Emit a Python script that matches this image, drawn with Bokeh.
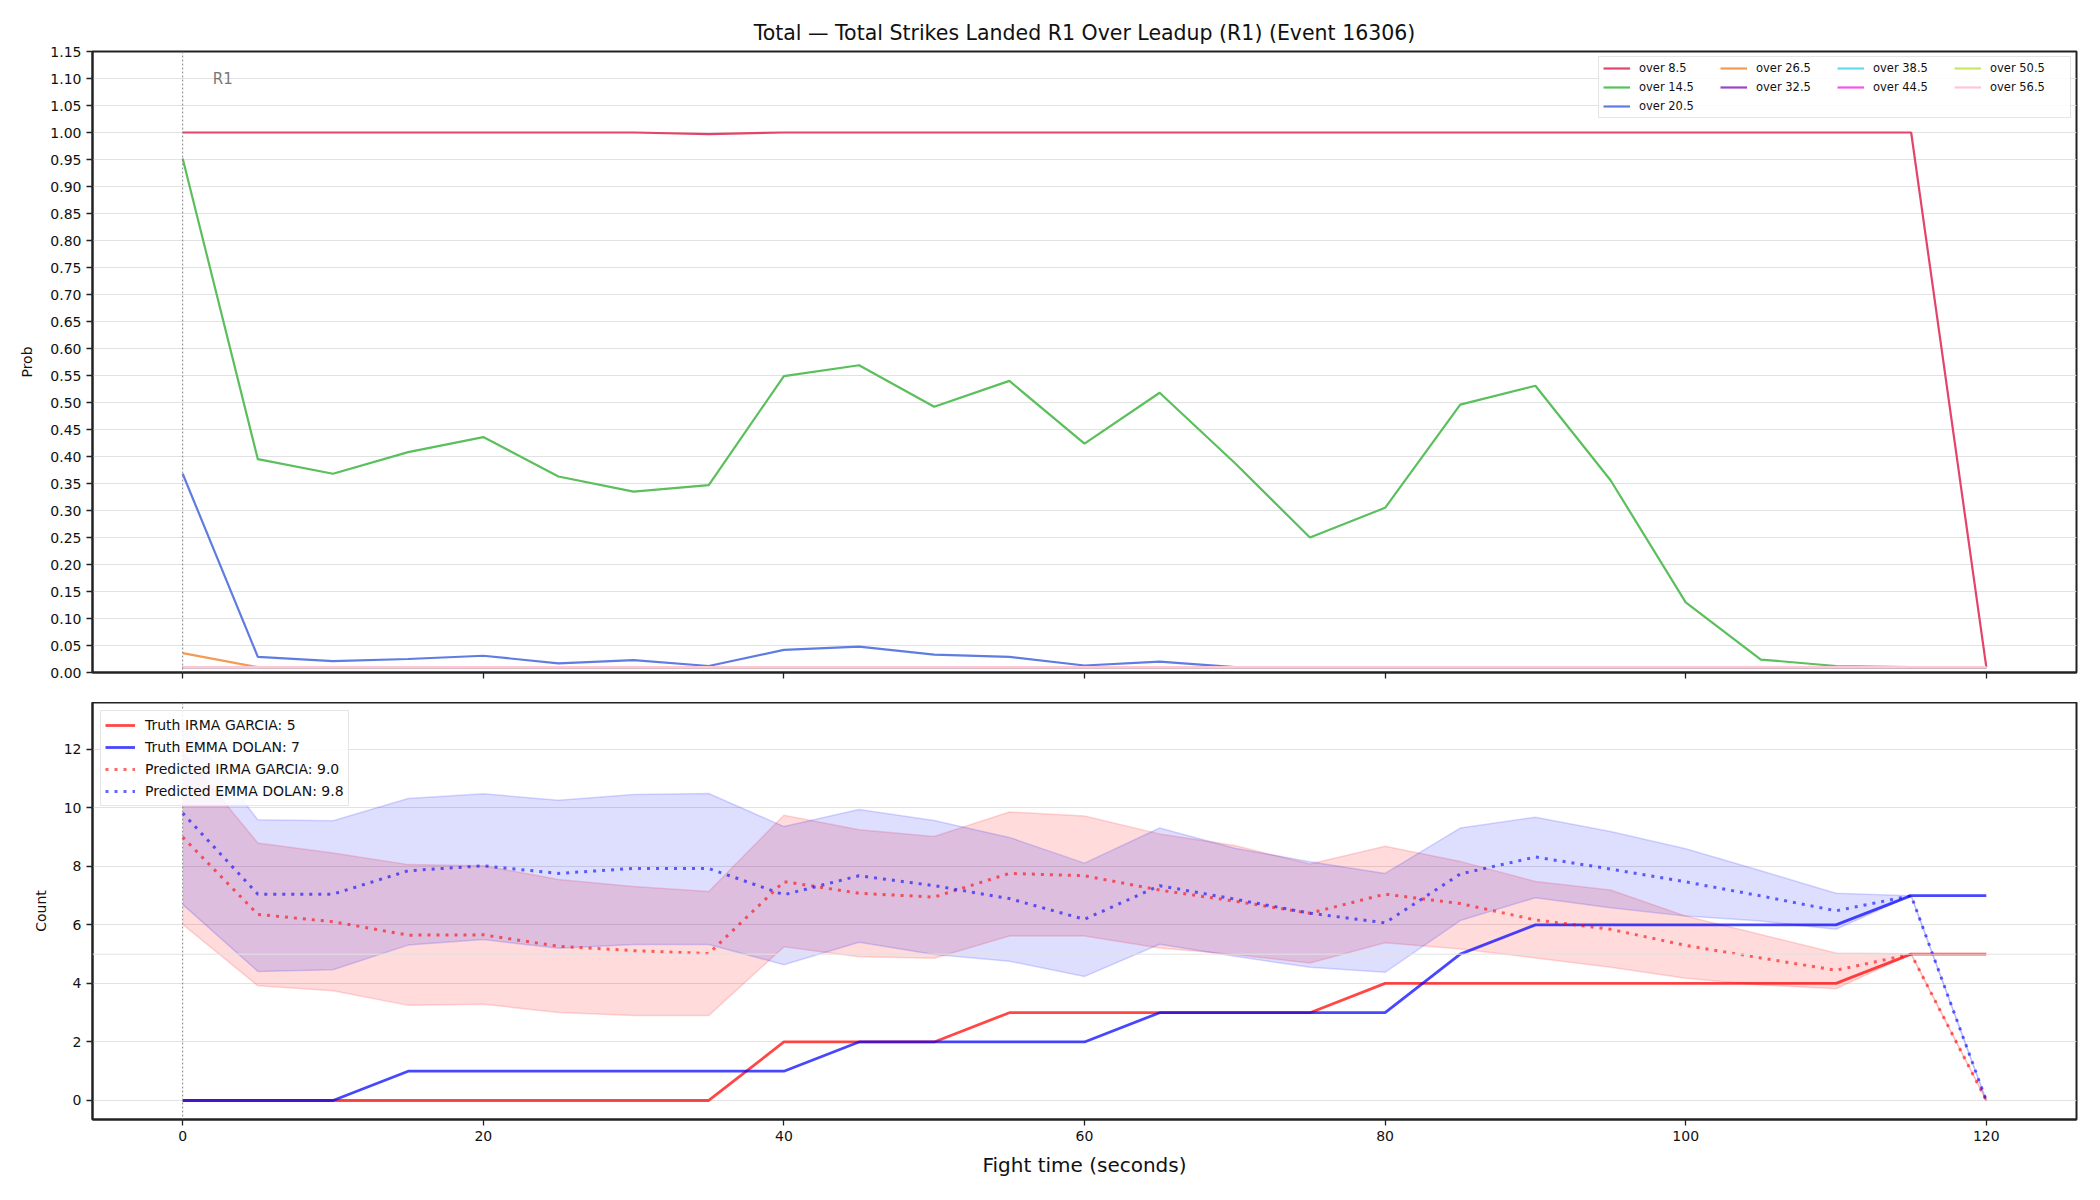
from bokeh.plotting import figure
from bokeh.layouts import column
from bokeh.models import Span, Legend, LegendItem, FixedTicker, NumeralTickFormatter, Range1d, Label
from bokeh.embed import file_html
from bokeh.resources import INLINE

FONT = "DejaVu Sans"

# ---------------- data ----------------
t = [0, 5, 10, 15, 20, 25, 30, 35, 40, 45, 50, 55, 60, 65, 70, 75, 80, 85, 90, 95, 100, 105, 110, 115, 120]

over_8_5 = [1.000, 1.000, 1.000, 1.000, 1.000, 1.000, 1.000, 0.997, 1.000, 1.000, 1.000, 1.000, 1.000,
            1.000, 1.000, 1.000, 1.000, 1.000, 1.000, 1.000, 1.000, 1.000, 1.000, 1.000, 0.010]
over_14_5 = [0.952, 0.395, 0.368, 0.408, 0.436, 0.363, 0.335, 0.347, 0.549, 0.569, 0.492, 0.540, 0.424,
             0.518, 0.388, 0.250, 0.305, 0.496, 0.531, 0.356, 0.130, 0.024, 0.012, 0.010, 0.010]
over_20_5 = [0.368, 0.029, 0.021, 0.025, 0.031, 0.017, 0.023, 0.012, 0.042, 0.048, 0.033, 0.029, 0.013,
             0.020, 0.010, 0.010, 0.010, 0.010, 0.010, 0.010, 0.010, 0.010, 0.010, 0.010, 0.010]
over_26_5 = [0.036, 0.010, 0.010, 0.010, 0.010, 0.010, 0.010, 0.010, 0.010, 0.010, 0.010, 0.010, 0.010,
             0.010, 0.010, 0.010, 0.010, 0.010, 0.010, 0.010, 0.010, 0.010, 0.010, 0.010, 0.010]
over_32_5 = [0.010, 0.010, 0.010, 0.010, 0.010, 0.010, 0.010, 0.010, 0.010, 0.010, 0.010, 0.010, 0.010,
             0.010, 0.010, 0.010, 0.010, 0.010, 0.010, 0.010, 0.010, 0.010, 0.010, 0.010, 0.010]
over_38_5 = [0.010, 0.010, 0.010, 0.010, 0.010, 0.010, 0.010, 0.010, 0.010, 0.010, 0.010, 0.010, 0.010,
             0.010, 0.010, 0.010, 0.010, 0.010, 0.010, 0.010, 0.010, 0.010, 0.010, 0.010, 0.010]
over_44_5 = [0.010, 0.010, 0.010, 0.010, 0.010, 0.010, 0.010, 0.010, 0.010, 0.010, 0.010, 0.010, 0.010,
             0.010, 0.010, 0.010, 0.010, 0.010, 0.010, 0.010, 0.010, 0.010, 0.010, 0.010, 0.010]
over_50_5 = [0.010, 0.010, 0.010, 0.010, 0.010, 0.010, 0.010, 0.010, 0.010, 0.010, 0.010, 0.010, 0.010,
             0.010, 0.010, 0.010, 0.010, 0.010, 0.010, 0.010, 0.010, 0.010, 0.010, 0.010, 0.010]
over_56_5 = [0.010, 0.010, 0.010, 0.010, 0.010, 0.010, 0.010, 0.010, 0.010, 0.010, 0.010, 0.010, 0.010,
             0.010, 0.010, 0.010, 0.010, 0.010, 0.010, 0.010, 0.010, 0.010, 0.010, 0.010, 0.010]

line_names = ["over 8.5", "over 14.5", "over 20.5", "over 26.5", "over 32.5",
              "over 38.5", "over 44.5", "over 50.5", "over 56.5"]
line_series = [over_8_5, over_14_5, over_20_5, over_26_5, over_32_5,
               over_38_5, over_44_5, over_50_5, over_56_5]

truth_irma = [0, 0, 0, 0, 0, 0, 0, 0, 2, 2, 2, 3, 3, 3, 3, 3, 4, 4, 4, 4, 4, 4, 4, 5, 5]
truth_emma = [0, 0, 0, 1, 1, 1, 1, 1, 1, 2, 2, 2, 2, 3, 3, 3, 3, 5, 6, 6, 6, 6, 6, 7, 7]
pred_irma = [9.0, 6.36, 6.11, 5.65, 5.66, 5.27, 5.12, 5.02, 7.48, 7.08, 6.95, 7.76, 7.68,
             7.19, 6.81, 6.40, 7.05, 6.73, 6.17, 5.85, 5.30, 4.87, 4.45, 5.0, 0.0]
pred_emma = [9.82, 7.05, 7.05, 7.85, 8.02, 7.76, 7.93, 7.93, 7.03, 7.68, 7.34, 6.90, 6.19,
             7.34, 6.88, 6.40, 6.07, 7.74, 8.32, 7.91, 7.47, 6.99, 6.48, 7.0, 0.0]
irma_hi = [11.92, 8.80, 8.46, 8.06, 8.02, 7.55, 7.31, 7.14, 9.75, 9.25, 9.02, 9.86, 9.72,
           9.11, 8.71, 8.08, 8.69, 8.17, 7.48, 7.19, 6.30, 5.67, 5.04, 5.01, 0.0]
irma_lo = [6.02, 3.92, 3.75, 3.25, 3.29, 3.01, 2.90, 2.90, 5.25, 4.91, 4.86, 5.62, 5.62,
           5.21, 4.99, 4.70, 5.39, 5.18, 4.87, 4.55, 4.18, 3.95, 3.82, 5.0, 0.0]
emma_hi = [12.95, 9.59, 9.56, 10.32, 10.48, 10.26, 10.46, 10.49, 9.36, 9.94, 9.57, 8.99, 8.11,
           9.31, 8.62, 8.16, 7.76, 9.31, 9.68, 9.19, 8.60, 7.85, 7.08, 7.0, 0.0]
emma_lo = [6.70, 4.41, 4.47, 5.31, 5.50, 5.20, 5.33, 5.33, 4.64, 5.41, 4.99, 4.76, 4.24,
           5.34, 4.93, 4.55, 4.38, 6.15, 6.93, 6.59, 6.30, 6.13, 5.85, 7.0, 0.0]

legend_truth_irma = "Truth IRMA GARCIA: 5"
legend_truth_emma = "Truth EMMA DOLAN: 7"
legend_pred_irma = "Predicted IRMA GARCIA: 9.0"
legend_pred_emma = "Predicted EMMA DOLAN: 9.8"

prob_ticks = [0.0, 0.05, 0.10, 0.15, 0.20, 0.25, 0.30, 0.35, 0.40, 0.45, 0.50, 0.55, 0.60,
              0.65, 0.70, 0.75, 0.80, 0.85, 0.90, 0.95, 1.00, 1.05, 1.10, 1.15]
count_ticks = [0, 2, 4, 6, 8, 10, 12]
time_ticks = [0, 20, 40, 60, 80, 100, 120]

title_text = "Total \u2014 Total Strikes Landed R1 Over Leadup (R1) (Event 16306)"

# ---------------- styles ----------------
line_colors = ["#e4436a", "#5abf5c", "#5f7ce2", "#f59a52", "#9a46c4",
               "#62dcee", "#f455ec", "#c6ea5e", "#fcc8d6"]


def style_axes(p):
    p.outline_line_color = "#222222"
    p.outline_line_width = 2
    p.xgrid.visible = False
    p.ygrid.grid_line_color = "#e2e2e2"
    p.ygrid.grid_line_width = 1
    for ax in (p.xaxis, p.yaxis):
        ax.axis_line_color = "#222222"
        ax.axis_line_width = 2
        ax.major_tick_line_color = "#222222"
        ax.major_tick_line_width = 1.3
        ax.major_tick_out = 6
        ax.major_tick_in = 0
        ax.minor_tick_line_color = None
        ax.major_label_text_font = FONT
        ax.major_label_text_font_size = "14px"
        ax.major_label_text_color = "#111111"
        ax.axis_label_text_font = FONT
        ax.axis_label_text_font_style = "normal"
        ax.axis_label_text_color = "#111111"


shared_x = Range1d(-6, 126)

# ---------------- top panel ----------------
p1 = figure(width=2100, height=702, x_range=shared_x, y_range=Range1d(0, 1.15),
            output_backend="svg", toolbar_location=None,
            min_border_left=92, min_border_right=24, min_border_top=51, min_border_bottom=30)
style_axes(p1)
p1.title.text = title_text
p1.title.align = "center"
p1.title.text_font = FONT
p1.title.text_font_size = "20.5px"
p1.title.text_font_style = "normal"
p1.title.text_color = "#111111"
p1.title.standoff = 14
p1.yaxis.ticker = FixedTicker(ticks=prob_ticks)
p1.yaxis.formatter = NumeralTickFormatter(format="0.00")
p1.yaxis.axis_label = "Prob"
p1.yaxis.axis_label_text_font_size = "14px"
p1.yaxis.axis_label_standoff = 12
p1.xaxis.ticker = FixedTicker(ticks=time_ticks)
p1.xaxis.major_label_overrides = {tk: "" for tk in time_ticks}

p1.add_layout(Span(location=0, dimension="height", line_color="#888888",
                   line_dash="2 2", line_width=1))

renderers = {}
for name, ys, col in zip(line_names, line_series, line_colors):
    renderers[name] = p1.line(t, ys, line_color=col, line_width=2.2)

p1.add_layout(Label(x=2, y=1.10, text="R1", text_color="#777777", text_font=FONT,
                    text_font_size="15px", text_baseline="middle", text_align="left"))

# order items so that a row-major 4-column grid matches the reference layout
legend_order = ["over 8.5", "over 26.5", "over 38.5", "over 50.5",
                "over 14.5", "over 32.5", "over 44.5", "over 56.5",
                "over 20.5"]
leg1 = Legend(items=[LegendItem(label=n, renderers=[renderers[n]]) for n in legend_order],
              location="top_right", orientation="horizontal", ncols=4)
leg1.label_text_font = FONT
leg1.label_text_font_size = "11.5px"
leg1.label_text_color = "#111111"
leg1.glyph_width = 27
leg1.glyph_height = 14
leg1.label_standoff = 9
leg1.label_width = 76
leg1.label_height = 14
leg1.spacing = 5
leg1.padding = 4
leg1.margin = 5
leg1.border_line_color = "#cccccc"
leg1.border_line_width = 1.5
leg1.background_fill_alpha = 0.85
p1.add_layout(leg1)

# ---------------- bottom panel ----------------
p2 = figure(width=2100, height=498, x_range=shared_x, y_range=Range1d(-0.65, 13.6),
            output_backend="svg", toolbar_location=None,
            min_border_left=92, min_border_right=24, min_border_top=0, min_border_bottom=81)
style_axes(p2)
p2.yaxis.ticker = FixedTicker(ticks=count_ticks)
p2.yaxis.axis_label = "Count"
p2.yaxis.axis_label_text_font_size = "14px"
p2.yaxis.axis_label_standoff = 12
p2.xaxis.ticker = FixedTicker(ticks=time_ticks)
p2.xaxis.axis_label = "Fight time (seconds)"
p2.xaxis.axis_label_text_font_size = "20px"
p2.xaxis.axis_label_standoff = 9

p2.add_layout(Span(location=5, dimension="width", line_color="#e2e2e2", line_width=1))
p2.add_layout(Span(location=0, dimension="height", line_color="#888888",
                   line_dash="2 2", line_width=1))

p2.varea(x=t, y1=irma_lo, y2=irma_hi, fill_color="#ff0000", fill_alpha=0.14)
p2.line(t, irma_hi, line_color="#ff0000", line_alpha=0.15, line_width=1.5)
p2.line(t, irma_lo, line_color="#ff0000", line_alpha=0.15, line_width=1.5)
p2.varea(x=t, y1=emma_lo, y2=emma_hi, fill_color="#0000ff", fill_alpha=0.13)
p2.line(t, emma_hi, line_color="#0000ff", line_alpha=0.15, line_width=1.5)
p2.line(t, emma_lo, line_color="#0000ff", line_alpha=0.15, line_width=1.5)

r_ti = p2.line(t, truth_irma, line_color="#ff0000", line_alpha=0.72, line_width=2.8)
r_te = p2.line(t, truth_emma, line_color="#0000ff", line_alpha=0.72, line_width=2.8)
r_pi = p2.line(t, pred_irma, line_color="#ff0000", line_alpha=0.6, line_width=3, line_dash="3 6")
r_pe = p2.line(t, pred_emma, line_color="#0000ff", line_alpha=0.6, line_width=3, line_dash="3 6")

leg2 = Legend(items=[LegendItem(label=legend_truth_irma, renderers=[r_ti]),
                     LegendItem(label=legend_truth_emma, renderers=[r_te]),
                     LegendItem(label=legend_pred_irma, renderers=[r_pi]),
                     LegendItem(label=legend_pred_emma, renderers=[r_pe])],
              location="top_left")
leg2.label_text_font = FONT
leg2.label_text_font_size = "14px"
leg2.label_text_color = "#111111"
leg2.glyph_width = 30
leg2.glyph_height = 20
leg2.label_standoff = 10
leg2.spacing = 2
leg2.padding = 4
leg2.margin = 8
leg2.border_line_color = "#cccccc"
leg2.border_line_width = 1.5
leg2.background_fill_alpha = 0.85
p2.add_layout(leg2)

layout = column(p1, p2)
open("out.html", "w").write(file_html(layout, INLINE))
